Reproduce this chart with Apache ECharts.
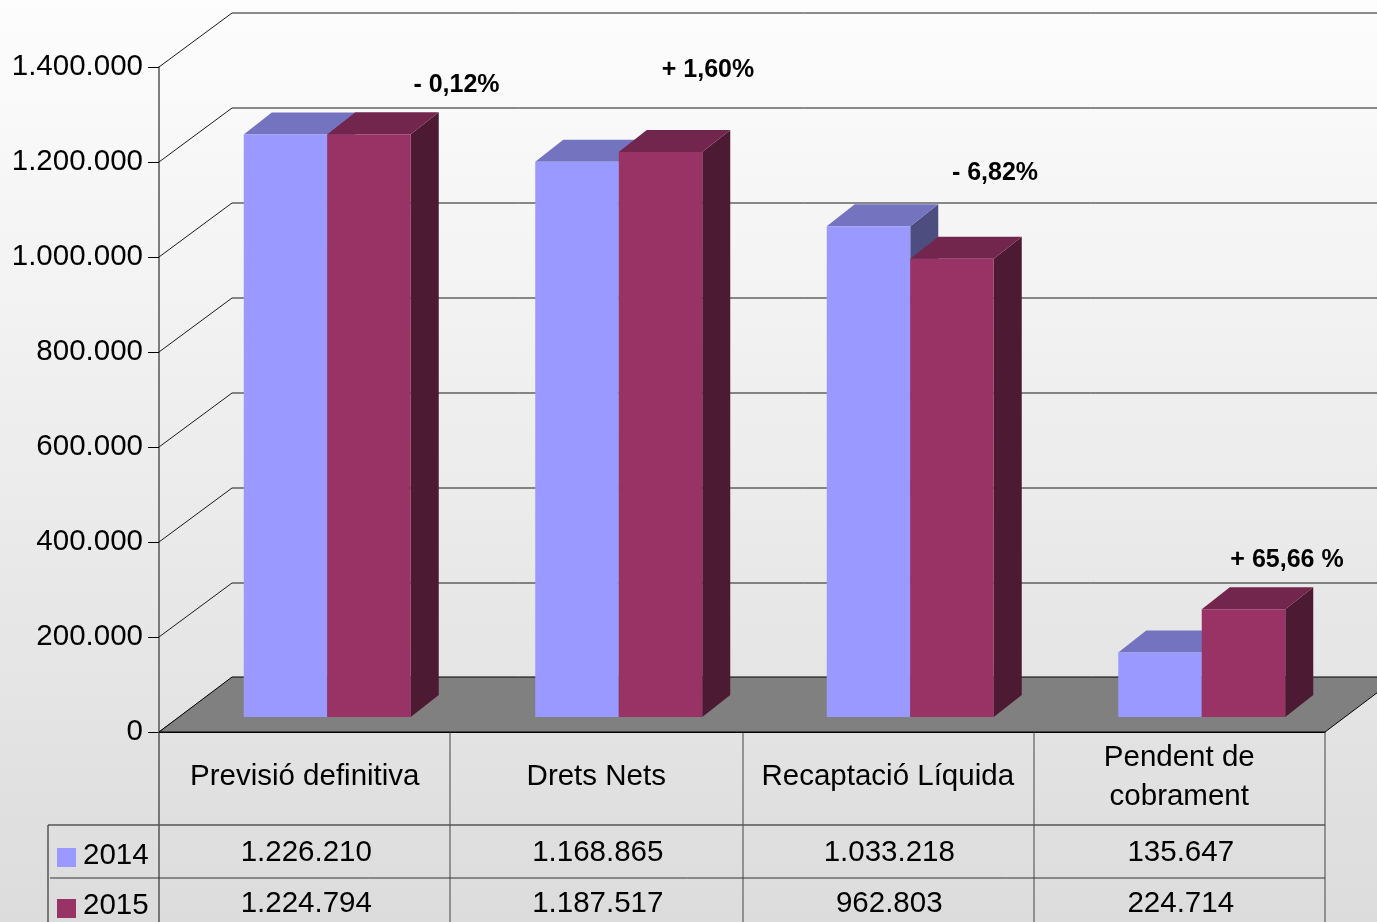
<!DOCTYPE html>
<html>
<head>
<meta charset="utf-8">
<style>html,body{margin:0;padding:0;background:#fff}#c{width:1377px;height:922px}</style>
<script src="https://cdn.jsdelivr.net/npm/echarts@6/dist/echarts.min.js"></script>
</head>
<body>
<div id="c"></div>
<script>
const categories = ['Previsió definitiva', 'Drets Nets', 'Recaptació Líquida', 'Pendent de\ncobrament'];
const values2014 = [1226210, 1168865, 1033218, 135647];
const values2015 = [1224794, 1187517, 962803, 224714];
const yTicks = [0, 200000, 400000, 600000, 800000, 1000000, 1200000, 1400000];
const tickLabels = ['0', '200.000', '400.000', '600.000', '800.000', '1.000.000', '1.200.000', '1.400.000'];
const changes = ['- 0,12%', '+ 1,60%', '- 6,82%', '+ 65,66 %'];
const seriesNames = ['2014', '2015'];

const FONT = '"Liberation Sans", Arial, sans-serif';
const W = 1377, H = 922;
const G = { l: 159, r: 1325, t: 67, b: 732 };
const WALL = { dx: 73, dy: -54 };
const BAR = { w: 83.5, ox: -61, oy: -15, dx: 28, dy: -22, lift: [0, 1] };
const COL = [
  { front: '#9999ff', top: '#7373bf', side: '#4d4d80' },
  { front: '#993366', top: '#73264d', side: '#4d1a33' }
];

function fmt(v) { return String(v).replace(/\B(?=(\d{3})+$)/g, '.'); }
function poly(pts, fill) { return { type: 'polygon', shape: { points: pts }, style: { fill: fill }, silent: true }; }

function barSeries(name, values, k) {
  return {
    type: 'custom', name: name, coordinateSystem: 'cartesian2d', clip: false, z: 4 + k,
    data: values.map((v, i) => [i, v]),
    encode: { x: 0, y: 1 },
    renderItem: function (p, api) {
      const top = api.coord([api.value(0), api.value(1)]);
      const base = api.coord([api.value(0), 0]);
      const x0 = top[0] + BAR.ox + k * BAR.w;
      const x1 = x0 + BAR.w;
      const y0 = base[1] + BAR.oy;
      const y1 = top[1] + BAR.oy - BAR.lift[k];
      const c = COL[k];
      return {
        type: 'group',
        children: [
          poly([[x1, y1], [x1 + BAR.dx, y1 + BAR.dy], [x1 + BAR.dx, y0 + BAR.dy], [x1, y0]], c.side),
          poly([[x0, y1], [x0 + BAR.dx, y1 + BAR.dy], [x1 + BAR.dx, y1 + BAR.dy], [x1, y1]], c.top),
          poly([[x0, y0], [x0, y1], [x1, y1], [x1, y0]], c.front)
        ]
      };
    }
  };
}

function cellSeries(values, y) {
  return {
    type: 'custom', coordinateSystem: 'cartesian2d', clip: false, z: 6,
    data: values.map((v, i) => [i, v]),
    encode: { x: 0, y: 1 },
    renderItem: function (p, api) {
      const c = api.coord([api.value(0), 0]);
      return {
        type: 'text', silent: true,
        style: { x: c[0] + 1.5, y: y, text: fmt(api.value(1)), fill: '#000', font: '29.5px ' + FONT, align: 'center', verticalAlign: 'middle' }
      };
    }
  };
}

const wallSeries = {
  type: 'custom', coordinateSystem: 'cartesian2d', clip: false, z: 1,
  data: yTicks.map(v => [0, v]),
  encode: { x: 0, y: 1 },
  renderItem: function (p, api) {
    const y = api.coord([0, api.value(1)])[1];
    return {
      type: 'polyline', silent: true,
      shape: { points: [[G.l, y], [G.l + WALL.dx, y + WALL.dy], [W, y + WALL.dy]] },
      style: { stroke: '#1a1a1a', lineWidth: 1, fill: null }
    };
  }
};

const floorSeries = {
  type: 'custom', coordinateSystem: 'cartesian2d', clip: false, z: 2,
  data: [[0, 0]],
  encode: { x: 0, y: 1 },
  renderItem: function (p, api) {
    const y = api.coord([0, 0])[1];
    const d = y - 55;
    return {
      type: 'group', children: [
        { type: 'polygon', silent: true, shape: { points: [[G.l, y], [G.l + 73, d], [G.r + 73, d], [G.r, y]] }, style: { fill: '#808080', stroke: '#000', lineWidth: 1 } }
      ]
    };
  }
};

const tableLines = [
  [[G.l, 732], [G.l, H], '#555', 1.5],
  [[450, 732], [450, H], '#444', 1],
  [[743, 732], [743, H], '#444', 1],
  [[1034, 732], [1034, H], '#444', 1],
  [[1325, 732], [1325, H], '#444', 1],
  [[48, 825], [48, H], '#555', 1.5],
  [[48, 825], [1325, 825], '#555', 1.5],
  [[50, 878], [1325, 878], '#333', 1]
];
const changePos = [[456.5, 85], [708, 70], [995, 173], [1287, 560]];

const graphics = [];
tableLines.forEach(l => graphics.push({
  type: 'line', silent: true, z: 1,
  shape: { x1: l[0][0], y1: l[0][1], x2: l[1][0], y2: l[1][1] },
  style: { stroke: l[2], lineWidth: l[3] }
}));
changes.forEach((t, i) => graphics.push({
  type: 'text', silent: true, z: 10, x: changePos[i][0], y: changePos[i][1],
  style: { text: t, fill: '#000', font: 'bold 25px ' + FONT, align: 'center', verticalAlign: 'middle' }
}));
seriesNames.forEach((n, i) => {
  const sy = [848, 899][i];
  graphics.push({ type: 'rect', silent: true, z: 10, shape: { x: 57, y: sy, width: 19, height: 19 }, style: { fill: COL[i].front } });
  graphics.push({ type: 'text', silent: true, z: 10, x: 83, y: [856, 906][i], style: { text: n, fill: '#000', font: '29.5px ' + FONT, align: 'left', verticalAlign: 'middle' } });
});

const chart = echarts.init(document.getElementById('c'), null, { renderer: 'canvas', width: W, height: H });
chart.setOption({
  animation: false,
  backgroundColor: {
    type: 'linear', x: 0, y: 0, x2: 0, y2: 1,
    colorStops: [{ offset: 0, color: '#fdfdfd' }, { offset: 1, color: '#dcdcdc' }]
  },
  grid: { left: G.l, right: W - G.r, top: G.t, bottom: H - G.b, containLabel: false },
  xAxis: {
    type: 'category', data: categories,
    axisLine: { show: true, lineStyle: { color: '#000', width: 1 } },
    axisTick: { show: false },
    splitLine: { show: false },
    axisLabel: { color: '#000', fontFamily: FONT, fontSize: 29.5, lineHeight: 39, margin: 45, verticalAlign: 'middle', align: 'center', interval: 0, hideOverlap: false }
  },
  yAxis: {
    type: 'value', min: 0, max: 1400000, interval: 200000,
    axisLine: { show: true, lineStyle: { color: '#555', width: 1.5 } },
    axisTick: { show: true, length: 11, lineStyle: { color: '#000', width: 1 } },
    splitLine: { show: false },
    axisLabel: { color: '#000', fontFamily: FONT, fontSize: 29.5, margin: 16, formatter: function (v) { return tickLabels[yTicks.indexOf(v)]; } }
  },
  series: [
    wallSeries, floorSeries,
    barSeries(seriesNames[0], values2014, 0),
    barSeries(seriesNames[1], values2015, 1),
    cellSeries(values2014, 853),
    cellSeries(values2015, 904)
  ],
  graphic: graphics
});
</script>
</body>
</html>
